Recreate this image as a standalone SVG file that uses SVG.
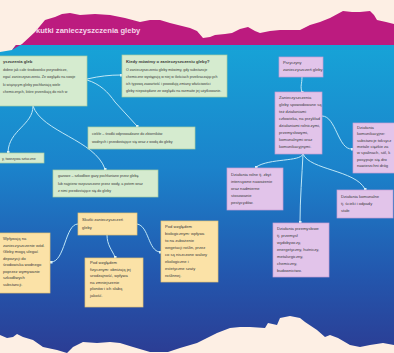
<svg xmlns="http://www.w3.org/2000/svg" width="394" height="353" viewBox="0 0 394 353">
  <defs>
    <linearGradient id="sky" x1="0" y1="45" x2="0" y2="350" gradientUnits="userSpaceOnUse">
      <stop offset="0" stop-color="#17a3d7"/>
      <stop offset="0.4" stop-color="#1b83cb"/>
      <stop offset="0.75" stop-color="#2357ae"/>
      <stop offset="1" stop-color="#2b3e95"/>
    </linearGradient>
    <marker id="dot" viewBox="0 0 4 4" refX="2" refY="2" markerWidth="3" markerHeight="3" markerUnits="userSpaceOnUse">
      <rect x="0" y="0" width="4" height="4" fill="#d9f2fb"/>
    </marker>
    <style>
      .edge { fill: none; stroke: #bfe7f6; stroke-width: 1; marker-end: url(#dot); }
      .green { fill: #d5ebcf; stroke: #a9cfa2; stroke-width: 0.7; }
      .yellow { fill: #fbe2a7; stroke: #e6c476; stroke-width: 0.7; }
      .purple { fill: #e2c4ea; stroke: #c79fd5; stroke-width: 0.7; }
      text { font-family: "Liberation Sans", Arial, sans-serif; fill: #3a3a3a; }
      .s { font-size: 3.6px; }
      .m { font-size: 4.1px; }
      .b { font-size: 4.2px; font-weight: bold; }
      .title { font-size: 7.6px; font-weight: bold; fill: #f6d6ea; }
    </style>
  </defs>

  <!-- paper backdrop -->
  <rect x="0" y="0" width="394" height="353" fill="#fdefe4"/>

  <!-- blue board with torn lower edge -->
  <path fill="url(#sky)" d="M0,52 L12,50 L16,45 L394,45 L394,345 L383,343 L370,345 L360,347 L350,345 L338,338 L330,335 L325,337 L317,330 L305,322 L300,318 L290,316 L280,318 L277,325 L268,323 L265,328 L250,327 L240,327 L230,328 L217,333 L207,338 L197,343 L180,348 L168,352 L150,352 L133,347 L120,343 L110,342 L97,343 L83,342 L73,347 L67,353 L57,350 L43,347 L33,340 L23,337 L17,334 L13,337 L7,338 L0,335 Z"/>

  <!-- magenta header strip with torn upper edge -->
  <path fill="#bc1b7f" d="M12,50 L22,44 L35,32 L45,20 L55,17 L62,14 L70,13 L80,15 L95,14 L110,15 L125,18 L140,22 L150,20 L160,20 L170,23 L190,28 L197,31 L203,38 L210,37 L215,35 L225,34 L232,33 L240,29 L248,27 L255,31 L260,33 L270,31 L280,30 L290,30 L300,30 L310,25 L320,22 L330,18 L343,11 L352,12 L360,12 L370,11 L374,15 L377,20 L386,22 L394,24 L394,45 L16,45 Z"/>
  <text class="title" x="36" y="33">kutki zanieczyszczenia gleby</text>

  <!-- connectors -->
  <g id="connectors">
    <path class="edge" d="M87,79 C100,76 110,75 121,75"/>
    <path class="edge" d="M87,80 C100,84 108,92 115,102 C122,110 130,118 137,126"/>
    <path class="edge" d="M33,106 C33,125 9,130 8,152"/>
    <path class="edge" d="M33,106 C42,132 95,140 105,169"/>
    <path class="edge" d="M302,77 C302,84 300,86 302,92"/>
    <path class="edge" d="M322,116 C336,116 338,150 352,149"/>
    <path class="edge" d="M303,154 C300,162 270,158 256,167"/>
    <path class="edge" d="M303,154 C302,175 300,200 300,222"/>
    <path class="edge" d="M303,154 C310,170 355,170 365,189"/>
    <path class="edge" d="M78,224 C65,224 65,262 51,262"/>
    <path class="edge" d="M107,235 C107,245 112,250 115,257"/>
    <path class="edge" d="M137,224 C149,226 148,251 160,252"/>
  </g>

  <!-- soil pollution types -->
  <g id="rodzaje">
    <rect class="green" x="-2" y="56" width="89" height="50"/>
    <text class="b" x="3" y="62.5">yszczenia gleb</text>
    <text class="s" x="3" y="71">dobne jak całe środowisko przyrodnicze,</text>
    <text class="s" x="3" y="78">egać zanieczyszczeniu. Ze względu na swoje</text>
    <text class="s" x="3" y="85.5">ki wiążącym gleby pochłaniają wiele</text>
    <text class="s" x="3" y="93">chemicznych, które przenikają do nich w</text>
  </g>

  <g id="kiedy">
    <rect class="green" x="122" y="55" width="105" height="42"/>
    <text class="b" x="126" y="63">Kiedy mówimy o zanieczyszczeniu gleby?</text>
    <text class="s" x="126" y="71">O zanieczyszczeniu gleby mówimy, gdy substancje</text>
    <text class="s" x="126" y="78">chemiczne występują w niej w ilościach przekraczających</text>
    <text class="s" x="126" y="85">ich typową zawartość i powodują zmiany właściwości</text>
    <text class="s" x="126" y="92">gleby niepożądane ze względu na rozmaite jej użytkowanie.</text>
  </g>

  <g id="ciekle">
    <rect class="green" x="88" y="127" width="107" height="22"/>
    <text class="s" x="92" y="135">ciekłe – środki odprowadzane do zbiorników</text>
    <text class="s" x="92" y="143">wodnych i przedostające się wraz z wodą do gleby</text>
  </g>

  <g id="stale">
    <rect class="green" x="-2" y="153" width="46" height="10"/>
    <text class="s" x="2" y="159.5">y, tworzywa sztuczne</text>
  </g>

  <g id="gazowe">
    <rect class="green" x="53" y="170" width="105" height="27"/>
    <text class="s" x="58" y="177">gazowe – szkodliwe gazy pochłaniane przez glebę</text>
    <text class="s" x="58" y="184.5">lub najpierw rozpuszczone przez wody, a potem wraz</text>
    <text class="s" x="58" y="192">z nimi przedostające się do gleby</text>
  </g>

  <!-- effects -->
  <g id="skutki">
    <rect class="yellow" x="78" y="213" width="59" height="22"/>
    <text class="m" x="82" y="221">Skutki zanieczyszczeń</text>
    <text class="m" x="82" y="229">gleby</text>
  </g>

  <g id="wody">
    <rect class="yellow" x="-2" y="233" width="52" height="60"/>
    <text class="m" x="3" y="240">Wpływają na</text>
    <text class="m" x="3" y="246.5">zanieczyszczenie wód.</text>
    <text class="m" x="3" y="253">Gleby mogą ulegać</text>
    <text class="m" x="3" y="259.5">depozycji do</text>
    <text class="m" x="3" y="266">środowiska wodnego</text>
    <text class="m" x="3" y="272.5">poprzez wymywanie</text>
    <text class="m" x="3" y="279">szkodliwych</text>
    <text class="m" x="3" y="285.5">substancji.</text>
  </g>

  <g id="fizyczne">
    <rect class="yellow" x="85" y="258" width="58" height="49"/>
    <text class="m" x="90" y="264">Pod względem</text>
    <text class="m" x="90" y="270.5">fizycznym: obniżają jej</text>
    <text class="m" x="90" y="277">urodzajność, wpływa</text>
    <text class="m" x="90" y="283.5">na zmniejszenie</text>
    <text class="m" x="90" y="290">plonów i ich słabą</text>
    <text class="m" x="90" y="296.5">jakość.</text>
  </g>

  <g id="biologiczne">
    <rect class="yellow" x="161" y="221" width="57" height="61"/>
    <text class="m" x="165" y="228">Pod względem</text>
    <text class="m" x="165" y="235">biologicznym: wpływa</text>
    <text class="m" x="165" y="242">to na zubożenie</text>
    <text class="m" x="165" y="249">wegetacji roślin, przez</text>
    <text class="m" x="165" y="256">co są niszczone walory</text>
    <text class="m" x="165" y="263">ekologiczne i</text>
    <text class="m" x="165" y="270">estetyczne szaty</text>
    <text class="m" x="165" y="277">roślinnej.</text>
  </g>

  <!-- causes -->
  <g id="przyczyny">
    <rect class="purple" x="279" y="57" width="44" height="20"/>
    <text class="m" x="283" y="64">Przyczyny</text>
    <text class="m" x="283" y="71">zanieczyszczeń gleby</text>
  </g>

  <g id="zanieczyszczenia">
    <rect class="purple" x="275" y="92" width="47" height="62"/>
    <text class="m" x="279" y="99">Zanieczyszczenia</text>
    <text class="m" x="279" y="106">gleby spowodowane są</text>
    <text class="m" x="279" y="113">też działaniami</text>
    <text class="m" x="279" y="120">człowieka, na przykład</text>
    <text class="m" x="279" y="127">działaniami rolniczymi,</text>
    <text class="m" x="279" y="134">przemysłowymi,</text>
    <text class="m" x="279" y="141">komunalnymi oraz</text>
    <text class="m" x="279" y="148">komunikacyjnymi.</text>
  </g>

  <g id="komunikacyjne">
    <rect class="purple" x="353" y="123" width="45" height="50"/>
    <text class="m" x="357" y="129">Działania</text>
    <text class="m" x="357" y="135.3">komunikacyjne:</text>
    <text class="m" x="357" y="141.6">substancje toksycz</text>
    <text class="m" x="357" y="147.9">metale ciężkie za</text>
    <text class="m" x="357" y="154.2">w spalinach, sól, k</text>
    <text class="m" x="357" y="160.5">posypuje się dro</text>
    <text class="m" x="357" y="166.8">nawierzchni dróg</text>
  </g>

  <g id="rolne">
    <rect class="purple" x="227" y="168" width="56" height="42"/>
    <text class="m" x="231" y="176">Działania rolne tj. zbyt</text>
    <text class="m" x="231" y="183">intensywne nawożenie</text>
    <text class="m" x="231" y="190">oraz nadmierne</text>
    <text class="m" x="231" y="197">stosowanie</text>
    <text class="m" x="231" y="204">pestycydów.</text>
  </g>

  <g id="komunalne">
    <rect class="purple" x="337" y="190" width="56" height="28"/>
    <text class="m" x="341" y="197.5">Działania komunalne</text>
    <text class="m" x="341" y="204.5">tj. ścieki i odpady</text>
    <text class="m" x="341" y="211.5">stałe</text>
  </g>

  <g id="przemyslowe">
    <rect class="purple" x="273" y="223" width="56" height="54"/>
    <text class="m" x="277" y="230">Działania przemysłowe</text>
    <text class="m" x="277" y="237">tj. przemysł</text>
    <text class="m" x="277" y="244">wydobywczy,</text>
    <text class="m" x="277" y="251">energetyczny, hutniczy,</text>
    <text class="m" x="277" y="258">metalurgiczny,</text>
    <text class="m" x="277" y="265">chemiczny,</text>
    <text class="m" x="277" y="272">budownictwo.</text>
  </g>
</svg>
